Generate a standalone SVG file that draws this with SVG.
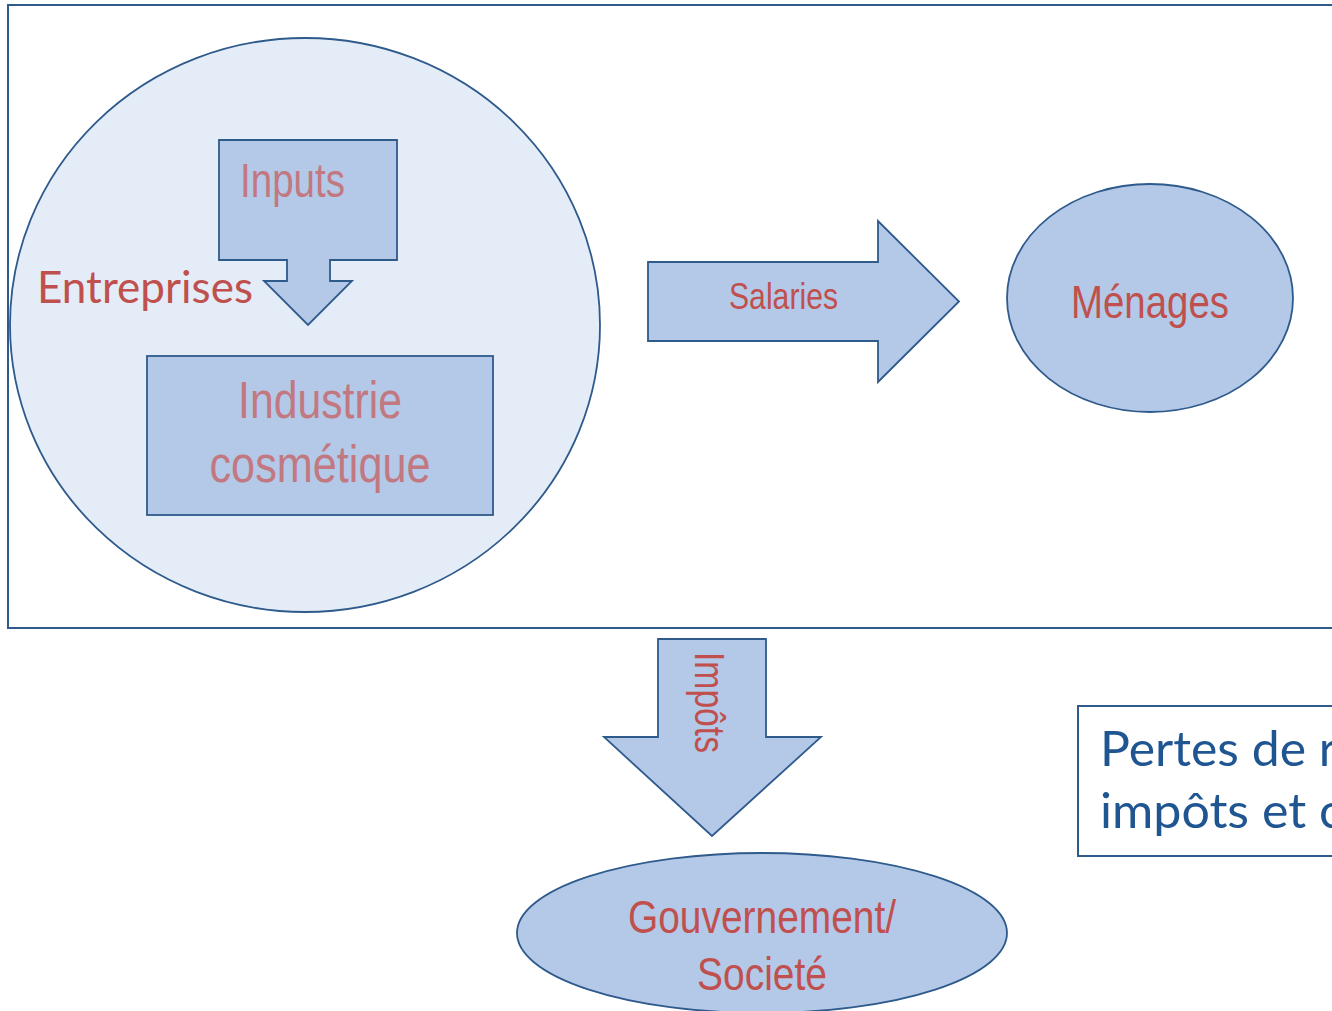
<svg xmlns="http://www.w3.org/2000/svg" width="1332" height="1011" viewBox="0 0 1332 1011">
<style>
.frame{fill:none;stroke:#2E5A8C;stroke-width:2}
.shape{fill:#B4C8E8;stroke:#2E5A8C;stroke-width:1.8}
.big{fill:#E4ECF7;stroke:#2E5A8C;stroke-width:1.8}
.narrow{font-family:"Liberation Sans Narrow","Liberation Sans",Arial,sans-serif}
.red{fill:#C0504D}
.faded{fill:#C27880}
.cal{font-family:Lato,"Liberation Sans",sans-serif}
</style>
<rect width="1332" height="1011" fill="#FFFFFF"/>
<rect id="frame" class="frame" x="8" y="5" width="1340" height="623"/>

<g id="entreprises">
  <ellipse class="big" cx="305" cy="325" rx="295" ry="287"/>
  <text class="cal red" x="37" y="303" font-size="45" textLength="216" lengthAdjust="spacingAndGlyphs">Entreprises</text>
</g>

<g id="industrie">
  <rect class="shape" x="147" y="356" width="346" height="159"/>
  <text class="narrow faded" x="320" y="418" font-size="52" text-anchor="middle" textLength="164" lengthAdjust="spacingAndGlyphs">Industrie</text>
  <text class="narrow faded" x="320" y="482" font-size="52" text-anchor="middle" textLength="221" lengthAdjust="spacingAndGlyphs">cosmétique</text>
</g>

<g id="menages">
  <ellipse class="shape" cx="1150" cy="298" rx="143" ry="114"/>
  <text class="narrow red" x="1150" y="318" font-size="47" text-anchor="middle" textLength="158" lengthAdjust="spacingAndGlyphs">Ménages</text>
</g>

<g id="gouvernement">
  <ellipse class="shape" cx="762" cy="933" rx="245" ry="80"/>
  <text class="narrow red" x="762" y="933" font-size="47" text-anchor="middle" textLength="268" lengthAdjust="spacingAndGlyphs">Gouvernement/</text>
  <text class="narrow red" x="762" y="990" font-size="47" text-anchor="middle" textLength="130" lengthAdjust="spacingAndGlyphs">Societé</text>
</g>

<g id="pertes">
  <rect class="frame" x="1078" y="706" width="270" height="150"/>
  <text class="cal" fill="#1F5591" x="1100" y="766" font-size="48" textLength="237" lengthAdjust="spacingAndGlyphs">Pertes de r</text>
  <text class="cal" fill="#1F5591" x="1100" y="828" font-size="48" textLength="243" lengthAdjust="spacingAndGlyphs">impôts et c</text>
</g>

<g id="connectors">
  <g id="inputs-arrow">
    <path class="shape" d="M219,140 H397 V260 H330 V281 H352 L308,325 L264,281 H287 V260 H219 Z"/>
    <text class="narrow faded" x="240" y="197" font-size="48" textLength="105" lengthAdjust="spacingAndGlyphs">Inputs</text>
  </g>
  <g id="salaries-arrow">
    <path class="shape" d="M648,262 H878 V221 L959,301.5 L878,382 V341 H648 Z"/>
    <text class="narrow red" x="729" y="309" font-size="37" textLength="109" lengthAdjust="spacingAndGlyphs">Salaries</text>
  </g>
  <g id="impots-arrow">
    <path class="shape" d="M658,639 H766 V737 H821 L712,836 L604,737 H658 Z"/>
    <text class="narrow red" transform="translate(695,652) rotate(90)" x="0" y="0" font-size="42" textLength="101" lengthAdjust="spacingAndGlyphs">Impôts</text>
  </g>
</g>
</svg>
